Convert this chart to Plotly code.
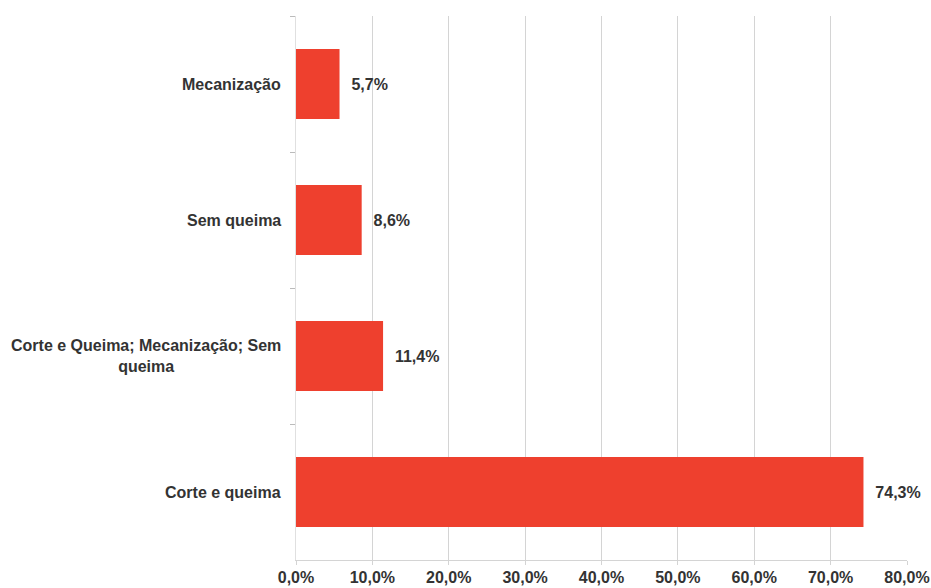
import plotly.graph_objects as go

# Categories listed top to bottom, with their shares (%)
categories = [
    "Mecanização",
    "Sem queima",
    "Corte e Queima; Mecanização; Sem queima",
    "Corte e queima",
]
category_labels = [
    "Mecanização",
    "Sem queima",
    "Corte e Queima; Mecanização; Sem<br>queima",
    "Corte e queima",
]
shares = [5.7, 8.6, 11.4, 74.3]
x_ticks = [0, 10, 20, 30, 40, 50, 60, 70, 80]
x_tick_labels = [f"{v:.1f}%".replace(".", ",") for v in x_ticks]

FONT = "Liberation Sans, Arial, sans-serif"
TEXT_COLOR = "#333333"
BAR_COLOR = "#ee402e"

fig = go.Figure(
    go.Bar(
        x=shares,
        y=categories,
        orientation="h",
        marker=dict(color=BAR_COLOR, line=dict(width=0)),
        texttemplate="\u00a0\u00a0%{x:.1f}%",
        textposition="outside",
        cliponaxis=False,
        textfont=dict(family=FONT, size=16, color=TEXT_COLOR, weight="bold"),
        hoverinfo="skip",
    )
)

# Category names as centred, right-anchored labels beside the axis
for cat, label in zip(categories, category_labels):
    fig.add_annotation(
        x=0, xref="paper", xanchor="right", xshift=-13,
        y=cat, yref="y", yanchor="middle",
        text=label, showarrow=False, align="center",
        font=dict(family=FONT, size=16, color=TEXT_COLOR, weight="bold"),
    )

fig.update_layout(
    width=931,
    height=588,
    margin=dict(l=296, r=24, t=16, b=28, autoexpand=False),
    paper_bgcolor="white",
    plot_bgcolor="white",
    separators=",.",
    bargap=0.485,
    showlegend=False,
    xaxis=dict(
        range=[0, 80],
        tickmode="array",
        tickvals=x_ticks,
        ticktext=x_tick_labels,
        automargin=False,
        showgrid=True,
        gridcolor="#d4d4d4",
        gridwidth=1,
        zeroline=False,
        showline=True,
        linecolor="#d4d4d4",
        ticks="outside",
        ticklen=4,
        tickcolor="#d4d4d4",
        ticklabelstandoff=-1,
        tickfont=dict(family=FONT, size=16, color=TEXT_COLOR, weight="bold"),
        fixedrange=True,
    ),
    yaxis=dict(
        autorange="reversed",
        automargin=False,
        showticklabels=False,
        showgrid=False,
        zeroline=False,
        showline=True,
        linecolor="#e0e0e0",
        ticks="outside",
        tickson="boundaries",
        ticklen=5,
        tickcolor="#bbbbbb",
        fixedrange=True,
    ),
)

fig.write_html("out.html")
